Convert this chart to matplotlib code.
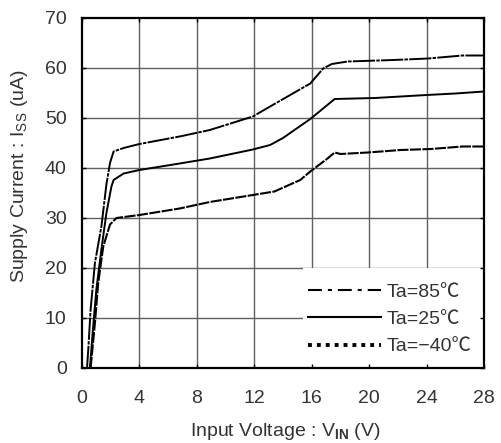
import numpy as np
import matplotlib
matplotlib.use("Agg")
import matplotlib.pyplot as plt
from matplotlib.lines import Line2D
from matplotlib.patches import Rectangle

plt.rcParams['font.family'] = ['Liberation Sans', 'Noto Sans CJK JP', 'DejaVu Sans']
plt.rcParams['mathtext.fontset'] = 'custom'
plt.rcParams['mathtext.rm'] = 'Liberation Sans'
plt.rcParams['mathtext.bf'] = 'Liberation Sans:bold'
plt.rcParams['lines.scale_dashes'] = False

TXT = '#333333'

# supply current vs input voltage
v_85 = [0.35, 0.45, 0.6, 0.9, 1.35, 1.7, 1.95, 2.2, 2.9, 4.0, 6.8, 8.9, 11.9, 13.1,
        15.9, 16.8, 17.4, 18.5, 21.7, 24.1, 26.5, 28.0]
i_85 = [0, 4.3, 11.7, 21, 28.3, 36.7, 41, 43.3, 44, 44.8, 46.3, 47.6, 50.3, 52.3,
        56.9, 59.9, 60.8, 61.3, 61.6, 61.9, 62.5, 62.5]

v_25 = [0.55, 0.75, 1.0, 1.35, 1.7, 2.05, 2.2, 2.9, 4.0, 6.8, 8.9, 11.9, 13.1, 14.0,
        15.0, 15.9, 17.6, 20.4, 24.0, 26.0, 28.0]
i_25 = [0, 7.3, 15.7, 23.7, 31, 36.3, 37.6, 38.9, 39.6, 40.9, 41.9, 43.7, 44.6, 46.0,
        48.0, 49.8, 53.8, 54.0, 54.6, 54.9, 55.3]

v_m40 = [0.6, 0.9, 1.13, 1.48, 1.95, 2.4, 4.0, 6.8, 8.9, 11.9, 13.4, 15.2, 15.9, 17.1,
         17.6, 18.0, 19.9, 22.2, 24.3, 26.5, 28.0]
i_m40 = [0, 9, 17, 24.3, 28.7, 30, 30.6, 31.9, 33.2, 34.6, 35.3, 37.6, 39.3, 41.9,
         43.1, 42.8, 43.1, 43.6, 43.8, 44.3, 44.3]

labels = ['Ta=85\u2103', 'Ta=25\u2103', 'Ta=\u221240\u2103']
xticks = np.arange(0, 29, 4)
yticks = np.arange(0, 71, 10)

fig = plt.figure(figsize=(5.02, 4.43), dpi=100)
ax = fig.add_axes([82/502, 1-368/443, 402/502, 350/443])
ax.set_xlim(0, 28)
ax.set_ylim(0, 70)

# grid by hand so the legend patch can hide it but not the ticks
for x in xticks[1:-1]:
    ax.axvline(x, color='#606060', lw=1.0, zorder=0.5)
for y in yticks[1:-1]:
    ax.axhline(y, color='#606060', lw=1.0, zorder=0.5)
ax.add_patch(Rectangle((0.55, 0), 0.45, 0.2857, transform=ax.transAxes,
                       facecolor='white', edgecolor='none', zorder=1))

ax.plot(v_85, i_85, color='black', lw=1.4, dashes=(16, 0.9, 2.5, 0.9), zorder=2)
ax.plot(v_25, i_25, color='black', lw=1.4, zorder=2)
ax.plot(v_m40, i_m40, color='black', lw=1.5, dashes=(8, 1.0), zorder=2)

ax.set_xticks(xticks)
ax.set_yticks(yticks)
ax.tick_params(axis='both', direction='in', top=True, right=True, length=3,
               width=1.0, labelsize=14, labelcolor=TXT)
ax.tick_params(axis='x', pad=16)
ax.tick_params(axis='y', pad=11)
ax.set_axisbelow(False)
for s in ax.spines.values():
    s.set_linewidth(1.6)
    s.set_zorder(3)

handles = [Line2D([], [], color='black', lw=1.5, dashes=(10, 4.3, 2.9, 4.3)),
           Line2D([], [], color='black', lw=1.5),
           Line2D([], [], color='black', lw=2.8, dashes=(2.8, 3.6))]
leg = ax.legend(handles, labels, loc='lower right', bbox_to_anchor=(1.0, 0.0),
                frameon=False, fontsize=14, handlelength=3.8, handletextpad=0.25,
                labelspacing=0.5, borderpad=0.45, borderaxespad=0.2)
for t in leg.get_texts():
    t.set_color(TXT)

fig.text(20/502, 1-176/443, 'Supply Current : I$_{\\mathrm{SS}}$ (uA)', rotation=90,
         ha='center', va='center', fontsize=14, color=TXT)
fig.text(285/502, 1-432/443, 'Input Voltage : V$_{\\mathbf{IN}}$ (V)',
         ha='center', va='center', fontsize=14, color=TXT)

fig.savefig('out.png', dpi=100)
